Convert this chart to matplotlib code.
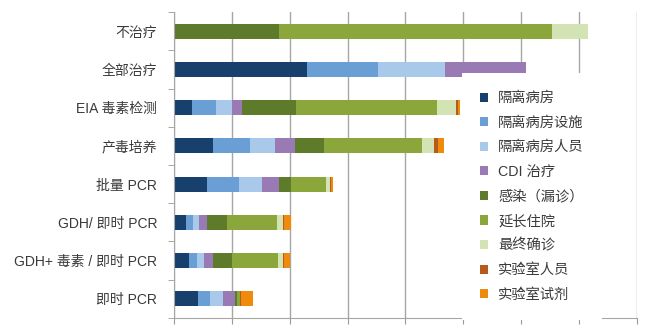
import numpy as np
import matplotlib
matplotlib.use('Agg')
import matplotlib.pyplot as plt

plt.rcParams['font.family'] = ['Liberation Sans', 'Noto Sans CJK SC', 'DejaVu Sans']

categories = ['不治疗', '全部治疗', 'EIA 毒素检测', '产毒培养', '批量 PCR',
              'GDH/ 即时 PCR', 'GDH+ 毒素 / 即时 PCR', '即时 PCR']

series_names = ['隔离病房', '隔离病房设施', '隔离病房人员', 'CDI 治疗', '感染（漏诊）',
                '延长住院', '最终确诊', '实验室人员', '实验室试剂']

# one list per series, in category order
ward = [0, 2.30, 0.31, 0.67, 0.57, 0.21, 0.26, 0.41]
ward_facility = [0, 1.23, 0.41, 0.64, 0.55, 0.12, 0.14, 0.22]
ward_staff = [0, 1.16, 0.29, 0.43, 0.40, 0.10, 0.12, 0.21]
cdi_treat = [0, 1.40, 0.17, 0.35, 0.29, 0.14, 0.16, 0.22]
infection = [1.81, 0, 0.93, 0.50, 0.22, 0.35, 0.33, 0.03]
long_stay = [4.72, 0, 2.44, 1.69, 0.59, 0.86, 0.78, 0.05]
final_diag = [0.62, 0, 0.33, 0.22, 0.07, 0.10, 0.10, 0.00]
lab_staff = [0, 0, 0.02, 0.07, 0.02, 0.02, 0.02, 0.02]
lab_reagent = [0, 0, 0.05, 0.09, 0.03, 0.12, 0.10, 0.21]

colors = ['#17406d', '#6a9fd6', '#a9c9ea', '#9a7ab4', '#5e7a2b',
          '#8ba73b', '#d4e3b3', '#b65b1c', '#ee8a0c']


def main():
    data = [ward, ward_facility, ward_staff, cdi_treat, infection,
            long_stay, final_diag, lab_staff, lab_reagent]

    fig = plt.figure(figsize=(6.49, 3.35), dpi=100)
    ax = fig.add_axes([0.268, 0.051, 0.7135, 0.913])

    y = np.arange(len(categories))
    left = np.zeros(len(categories))
    for name, vals, c in zip(series_names, data, colors):
        vals = np.array(vals)
        ax.barh(y, vals, left=left, height=0.39, color=c, label=name,
                edgecolor='none')
        left += vals

    ax.set_ylim(len(categories) - 0.5, -0.5)
    ax.set_xlim(0, 8)
    ax.set_yticks(y)
    ax.set_yticklabels(categories, fontsize=10, color='#3a3a3a')
    ax.set_yticks(np.arange(len(categories) + 1) - 0.5, minor=True)
    ax.tick_params(axis='y', which='major', length=0, pad=12)
    ax.tick_params(axis='y', which='minor', length=4, color='#999999')
    ax.set_xticks(np.arange(0, 9))
    ax.set_xticklabels([])
    ax.tick_params(axis='x', length=4, color='#999999')

    ax.set_axisbelow(True)
    ax.grid(axis='x', color='#a6a6a6', linewidth=1)
    for s in ['top', 'right']:
        ax.spines[s].set_visible(False)
    for s in ['left', 'bottom']:
        ax.spines[s].set_color('#a6a6a6')

    leg = ax.legend(loc='upper left', bbox_to_anchor=(0.622, 0.80),
                    fontsize=10.3, frameon=True, facecolor='white',
                    edgecolor='none', framealpha=1, fancybox=False,
                    handlelength=0.6, handleheight=0.6, handletextpad=0.68,
                    labelspacing=0.74, borderpad=1.25, borderaxespad=0)
    for t in leg.get_texts():
        t.set_color('#3a3a3a')

    fig.savefig('out.png', dpi=100)


if __name__ == '__main__':
    main()
